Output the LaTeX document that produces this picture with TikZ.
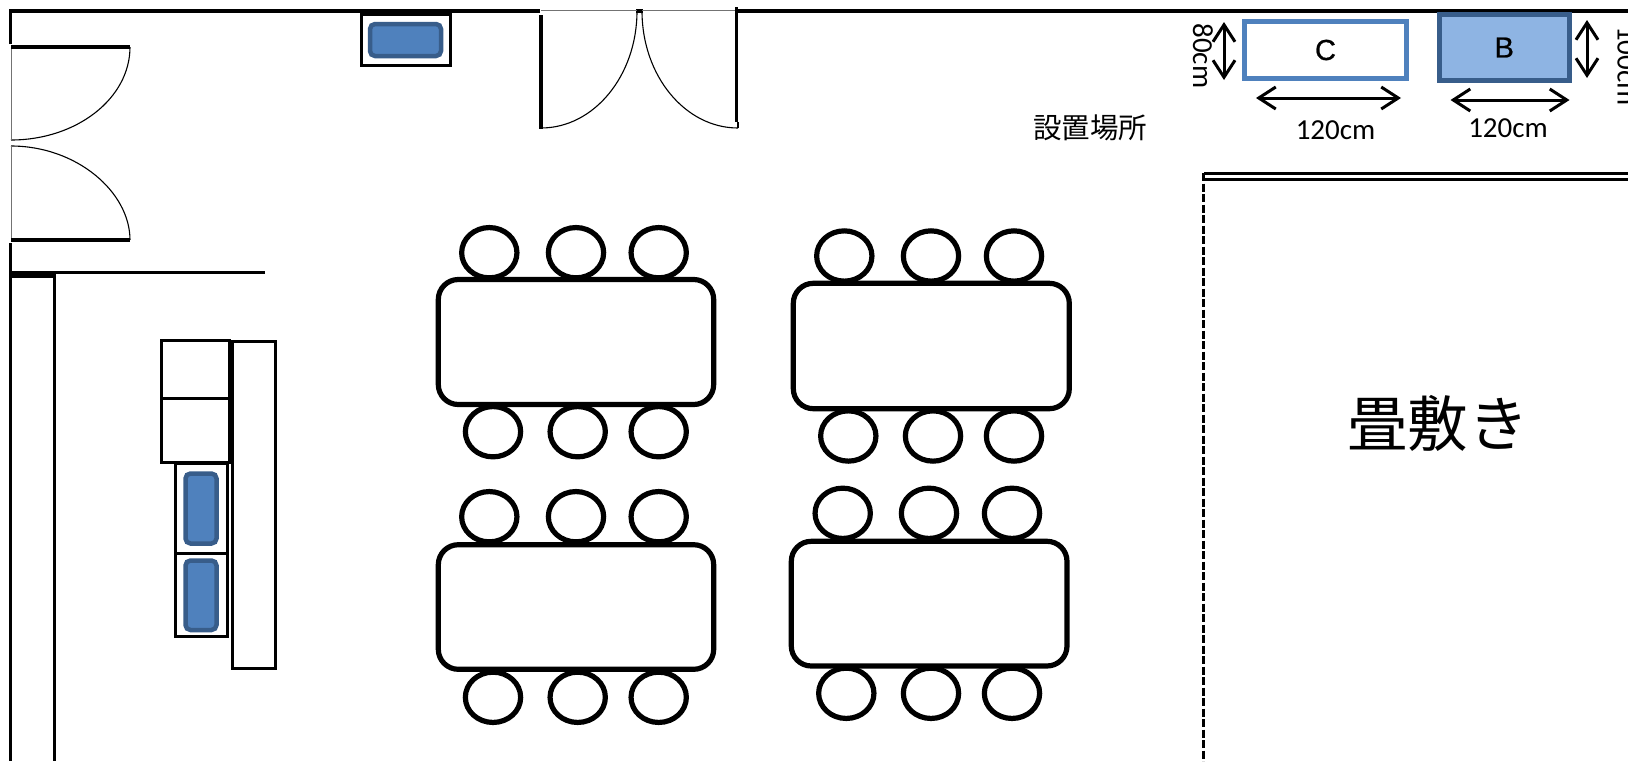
\documentclass[tikz,border=0pt]{standalone}
\usepackage{fontspec}
\usetikzlibrary{shapes.geometric,arrows.meta}
\newfontfamily\calib{Carlito}
\newfontfamily\arialf[FakeBold=0.8]{Liberation Sans}
\newfontfamily\cjkf{Noto Sans CJK JP}
\definecolor{devfill}{HTML}{4F81BD}
\definecolor{devline}{HTML}{385D8A}
\definecolor{bfill}{HTML}{8EB4E3}
\newcommand{\plannode}[7]{%
  \pgfmathsetmacro\planw{#5-#3}\pgfmathsetmacro\planh{#6-#4}%
  \node[#2,minimum width=\planw pt,minimum height=\planh pt,anchor=center] (#1) at ({(#3+#5)/2},{(#4+#6)/2}) {#7};}
\newcommand{\chairnode}[3]{\node[chairshape] (#1) at (#2,#3) {};}
\tikzset{
  base/.style={inner sep=0pt,outer sep=0pt},
  wall/.style={line width=3.4pt,black},
  thinline/.style={line width=1.1pt,black},
  greyline/.style={line width=1pt,black!55},
  plainbox/.style={base,draw=black,line width=3pt,fill=white},
  device/.style={base,draw=devline,fill=devfill,line width=4.5pt,rounded corners=5pt},
  tablebox/.style={base,draw=black,fill=white,line width=5.2pt,rounded corners=20pt},
  chairshape/.style={base,ellipse,draw=black,fill=white,line width=5.2pt,minimum width=55.3pt,minimum height=50.3pt},
  dimarrow/.style={line width=3pt,{Straight Barb[length=17pt,width=22pt]}-{Straight Barb[length=17pt,width=22pt]}},
  cal/.style={base,font=\calib\fontsize{29}{30}\selectfont},
  jp/.style={base,font=\cjkf\fontsize{28.5}{30}\selectfont},
  letter/.style={font=\arialf\fontsize{29}{30}\selectfont},
}
\begin{document}
\begin{tikzpicture}[x=1pt,y=-1pt]
\useasboundingbox (0,0) rectangle (1628,761);
\fill[white] (0,0) rectangle (1628,761);
% walls
\draw[wall] (10.5,44) -- (10.5,11) -- (540,11);
\draw[wall] (636,11) -- (643,11);
\draw[wall] (737,11) -- (1628,11);
\draw[wall] (10.5,243) -- (10.5,761);
\draw[wall] (10.5,272.7) -- (265,272.7);
\draw[wall] (10.5,276) -- (54.5,276) -- (54.5,761);
% left doors
\draw[thinline] (130,47) .. controls (130,98.4) and (76.7,140) .. (11,140);
\draw[greyline] (11,47) -- (11,140);
\draw[wall] (11,47) -- (130,47);
\draw[thinline] (11,146) .. controls (76.7,146) and (130,192) .. (130,240);
\draw[greyline] (11,146) -- (11,240);
\draw[wall] (11,240) -- (130,240);
% top doors
\draw[greyline] (541,10) -- (637,10);
\draw[greyline] (642,10) -- (737,10);
\draw[thinline] (637,11) .. controls (637,75.6) and (594,128) .. (541,128);
\draw[thinline] (642,11) .. controls (642,75.6) and (685,128) .. (738,128);
\draw[wall] (541,15) -- (541,129);
\draw[wall] (736.5,7) -- (736.5,122);
\draw[thinline] (738,122) -- (738,128);
% wall-mounted device
\plannode{topbox}{plainbox}{361}{14}{450.5}{65.5}{}
\plannode{topdev}{device}{370}{24}{441}{56}{}
% counter
\plannode{cabA}{plainbox}{161.5}{340}{229.5}{398}{}
\plannode{cabB}{plainbox}{161.5}{398}{229.5}{462.5}{}
\plannode{counter}{plainbox}{232}{341.5}{275.5}{668}{}
\plannode{boxA}{plainbox}{175}{463.5}{227.5}{553}{}
\plannode{boxB}{plainbox}{175}{553}{227.5}{636.7}{}
\plannode{devA}{device}{185.5}{473.5}{216.5}{543.5}{}
\plannode{devB}{device}{185.5}{560.5}{216.5}{630}{}
% table TL
\chairnode{a1}{489.3}{252.7}\chairnode{a2}{576}{252.7}\chairnode{a3}{658.7}{252.7}
\chairnode{a4}{493}{431.7}\chairnode{a5}{577.7}{431.7}\chairnode{a6}{658.7}{431.7}
\plannode{tableA}{tablebox}{438.3}{279.5}{713.7}{404.5}{}
% table BL
\chairnode{b1}{489.3}{516.7}\chairnode{b2}{576}{516.7}\chairnode{b3}{658.7}{516.7}
\chairnode{b4}{493}{697.3}\chairnode{b5}{577.7}{697.3}\chairnode{b6}{658.7}{697.3}
\plannode{tableB}{tablebox}{438.3}{544.7}{713.7}{669.3}{}
% table TR
\chairnode{c1}{844.3}{256}\chairnode{c2}{931}{256}\chairnode{c3}{1014}{256}
\chairnode{c4}{848.3}{436}\chairnode{c5}{933}{436}\chairnode{c6}{1014}{436}
\plannode{tableC}{tablebox}{793.3}{283.3}{1069.3}{408.7}{}
% table BR
\chairnode{d1}{842.7}{513.3}\chairnode{d2}{929}{513.3}\chairnode{d3}{1012}{513.3}
\chairnode{d4}{846.3}{693.3}\chairnode{d5}{931}{693.3}\chairnode{d6}{1012}{693.3}
\plannode{tableD}{tablebox}{791.3}{541.3}{1067}{666}{}
% tatami
\draw[line width=3.5pt,dash pattern=on 8pt off 2.5pt] (1203.5,173) -- (1203.5,761);
\draw[line width=3pt] (1204,173.5) -- (1628,173.5);
\draw[line width=3pt] (1204,179.5) -- (1628,179.5);
\node[base,font=\cjkf\fontsize{60.5}{62}\selectfont] (tatami) at (1438,423) {畳敷き};
% size samples
\plannode{sizeC}{base,draw=devfill,fill=white,line width=5pt,letter}{1244.5}{21.5}{1406.5}{78.5}{C}
\plannode{sizeB}{base,draw=devline,fill=bfill,line width=5pt,letter}{1439}{14.5}{1569.5}{80.5}{B}
\coordinate (cv1) at (1224,22);\coordinate (cv2) at (1224,80);
\coordinate (ch1) at (1256,98);\coordinate (ch2) at (1401,98);
\coordinate (bv1) at (1587,20);\coordinate (bv2) at (1587,78);
\coordinate (bh1) at (1450.5,100);\coordinate (bh2) at (1569.5,100);
\draw[dimarrow] (cv1) -- (cv2);
\draw[dimarrow] (ch1) -- (ch2);
\draw[dimarrow] (bv1) -- (bv2);
\draw[dimarrow] (bh1) -- (bh2);
\node[cal,rotate=-90] (lab80) at (1203,56) {80cm};
\node[cal,rotate=-90] (lab100) at (1627,66) {100cm};
\node[cal] (labC) at (1335.5,130) {120cm};
\node[cal] (labB) at (1508,128) {120cm};
\node[jp] (place) at (1090,128) {設置場所};
\end{tikzpicture}
\end{document}
